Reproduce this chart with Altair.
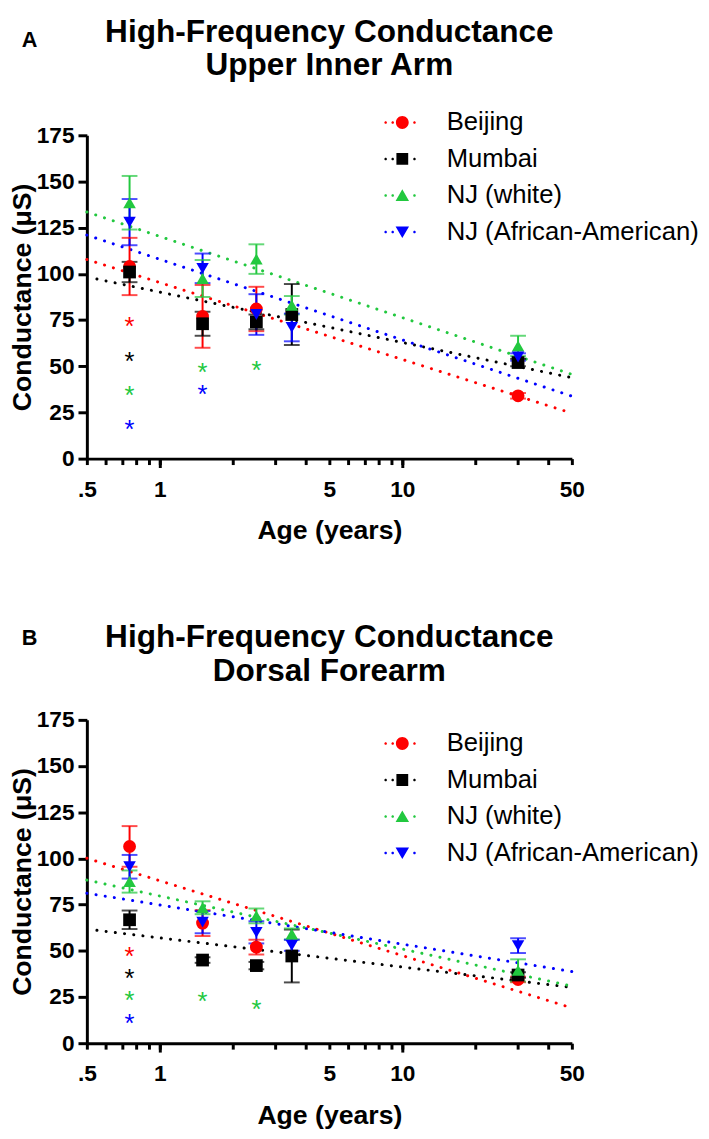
import altair as alt
import pandas as pd

# ---------------- data ----------------
SERIES = ["Beijing", "Mumbai", "NJ (white)", "NJ (African-American)"]
COLORS = ["#FF0000", "#000000", "#22C83F", "#0000FF"]
POINT_SHAPES = ["circle", "square", "triangle-up", "triangle-down"]
POINT_SIZES = [170, 160, 210, 210]
AGES = [0.75, 1.5, 2.5, 3.5, 30]

X_LABEL_TICKS = [0.5, 1, 5, 10, 50]
X_MAJOR_TICKS = [1, 10]
X_MINOR_TICKS = [0.6, 0.7, 0.8, 0.9, 2, 3, 4, 6, 7, 8, 9, 20, 30, 40]
Y_TICKS = [0, 25, 50, 75, 100, 125, 150, 175]

# Panel A - Upper Inner Arm : mean and error per age group (None = no group)
A_MEANS = {
    "Beijing": [104, 77, 81, None, 34],
    "Mumbai": [101, 73, 74, 78, 52],
    "NJ (white)": [138.5, 97.5, 108, 83, 61],
    "NJ (African-American)": [128, 103, 78, 71, 55],
}
A_ERRS = {
    "Beijing": [15.5, 17, 12, None, 1.5],
    "Mumbai": [5.5, 6.5, 4, 16.5, 2],
    "NJ (white)": [14.5, 10, 8, 5, 5.5],
    "NJ (African-American)": [12.5, 8, 11, 7.5, 2],
}
A_FIT_X0 = [0.5, 0.55, 0.5, 0.5]
A_FIT_X1 = [50, 50, 50, 50]
A_FIT_Y0 = [107.8, 97.2, 133.5, 121.0]
A_FIT_Y1 = [24.6, 43.8, 45.6, 33.8]
A_STAR_AGE = [0.75, 0.75, 0.75, 0.75, 1.5, 1.5, 2.5]
A_STAR_SERIES = ["Beijing", "Mumbai", "NJ (white)", "NJ (African-American)",
                 "NJ (white)", "NJ (African-American)", "NJ (white)"]
A_STAR_Y = [75, 56, 37.5, 19, 50, 38, 51]

# Panel B - Dorsal Forearm
B_MEANS = {
    "Beijing": [106.5, 65, 52, None, 34.5],
    "Mumbai": [66.8, 45, 42, 47.2, 36.9],
    "NJ (white)": [87.5, 73.3, 68.9, 59.1, 39.4],
    "NJ (African-American)": [95.5, 65.5, 60, 53, 52.8],
}
B_ERRS = {
    "Beijing": [11, 7, 4, None, 1.5],
    "Mumbai": [5, 1.5, 2, 14.3, 1.5],
    "NJ (white)": [6, 3.5, 4, 3, 6],
    "NJ (African-American)": [6.4, 6, 6, 3, 4],
}
B_FIT_X0 = [0.5, 0.55, 0.5, 0.5]
B_FIT_X1 = [50, 50, 50, 50]
B_FIT_Y0 = [100.1, 61.1, 88.3, 81.2]
B_FIT_Y1 = [19.1, 30.2, 30.9, 38.8]
B_STAR_AGE = [0.75, 0.75, 0.75, 0.75, 1.5, 2.5]
B_STAR_SERIES = ["Beijing", "Mumbai", "NJ (white)", "NJ (African-American)",
                 "NJ (white)", "NJ (white)"]
B_STAR_Y = [50.3, 38.4, 26.3, 14, 25.8, 21.4]

TITLE_LINE1 = "High-Frequency Conductance"
A_TITLE_LINE2 = "Upper Inner Arm"
B_TITLE_LINE2 = "Dorsal Forearm"

# legend symbols: dotted line + marker (custom SVG paths)
DOTS = ("M-2.8,0a0.2,0.2 0 1,0 0.4,0a0.2,0.2 0 1,0 -0.4,0Z "
        "M-1.7,0a0.2,0.2 0 1,0 0.4,0a0.2,0.2 0 1,0 -0.4,0Z "
        "M1.7,0a0.2,0.2 0 1,0 0.4,0a0.2,0.2 0 1,0 -0.4,0Z")
LEGEND_PATHS = [
    DOTS + " M-1,0a1,1 0 1,0 2,0a1,1 0 1,0 -2,0Z",
    DOTS + " M-0.92,-0.92h1.84v1.84h-1.84Z",
    DOTS + " M0,-0.95L1.05,0.85L-1.05,0.85Z",
    DOTS + " M0,0.95L1.05,-0.85L-1.05,-0.85Z",
]

FONT = "Liberation Sans"
W, H = 492, 328


def build_frames(means, errs, fx0, fx1, fy0, fy1, s_age, s_series, s_y):
    pts, caps, lines = [], [], []
    for s in SERIES:
        for age, m, e in zip(AGES, means[s], errs[s]):
            if m is None:
                continue
            pts.append({"series": s, "age": age, "mean": m, "lo": m - e, "hi": m + e})
            caps.append({"series": s, "age": age, "cap": m - e})
            caps.append({"series": s, "age": age, "cap": m + e})
    for s, a0, a1, v0, v1 in zip(SERIES, fx0, fx1, fy0, fy1):
        lines.append({"series": s, "age": a0, "value": v0})
        lines.append({"series": s, "age": a1, "value": v1})
    stars = pd.DataFrame({"series": s_series, "age": s_age, "value": s_y})
    return pd.DataFrame(pts), pd.DataFrame(caps), pd.DataFrame(lines), stars


def panel(means, errs, fx0, fx1, fy0, fy1, s_age, s_series, s_y,
          line2, letter, t1_y, t2_y, letter_y, leg_x, leg_y):
    pts, caps, lines, stars = build_frames(means, errs, fx0, fx1, fy0, fy1,
                                           s_age, s_series, s_y)
    xs = alt.Scale(type="log", domain=[0.5, 50], nice=False)
    ys = alt.Scale(domain=[0, 175], nice=False, zero=True)

    def cscale():
        return alt.Scale(domain=SERIES, range=COLORS)

    x_label_axis = alt.Axis(
        orient="bottom", values=X_LABEL_TICKS,
        labelExpr="datum.value < 0.9 ? '.5' : datum.label",
        tickSize=6, tickWidth=3, domainWidth=3, domainColor="black",
        tickColor="black", labelFontSize=23, labelFontWeight="bold",
        labelColor="black", labelPadding=14, labelFlush=False,
        labelOverlap=False, title="Age (years)", titleFontSize=27,
        titleFontWeight="bold", titleColor="black", titlePadding=17,
        grid=False)
    x_major_axis = alt.Axis(
        orient="bottom", values=X_MAJOR_TICKS, tickSize=9, tickWidth=3,
        tickColor="black", labels=False, domain=False, title=None, grid=False)
    x_minor_axis = alt.Axis(
        orient="bottom", values=X_MINOR_TICKS, tickSize=6, tickWidth=3,
        tickColor="black", labels=False, domain=False, title=None, grid=False)

    def y_axis():
        return alt.Axis(
            values=Y_TICKS, tickSize=9, tickWidth=3, domainWidth=3,
            domainColor="black", tickColor="black", labelFontSize=23,
            labelFontWeight="bold", labelColor="black", labelPadding=4,
            title="Conductance (\u03bcS)", titleFontSize=27,
            titleFontWeight="bold", titleColor="black", titlePadding=0,
            grid=False)

    fit = alt.Chart(lines).mark_line(
        strokeDash=[0.1, 9.3], strokeCap="round", strokeWidth=3
    ).encode(
        x=alt.X("age:Q", scale=xs, axis=x_label_axis),
        y=alt.Y("value:Q", scale=ys, axis=y_axis()),
        color=alt.Color("series:N", scale=cscale(), legend=None),
        detail="series:N",
    )
    bars = alt.Chart(pts).mark_rule(strokeWidth=2).encode(
        x=alt.X("age:Q", scale=xs, axis=x_minor_axis),
        y=alt.Y("lo:Q", scale=ys, axis=y_axis()),
        y2="hi:Q",
        color=alt.Color("series:N", scale=cscale(), legend=None),
    )
    capm = alt.Chart(caps).mark_tick(orient="horizontal", size=16, thickness=2).encode(
        x=alt.X("age:Q", scale=xs, axis=x_major_axis),
        y=alt.Y("cap:Q", scale=ys, axis=y_axis()),
        color=alt.Color("series:N", scale=cscale(), legend=None),
    )
    marks = alt.Chart(pts).mark_point(filled=True, opacity=1, strokeWidth=0).encode(
        x=alt.X("age:Q", scale=xs, axis=None),
        y=alt.Y("mean:Q", scale=ys, axis=y_axis()),
        color=alt.Color("series:N", scale=cscale(), legend=None),
        shape=alt.Shape("series:N", scale=alt.Scale(domain=SERIES, range=POINT_SHAPES), legend=None),
        size=alt.Size("series:N", scale=alt.Scale(domain=SERIES, range=POINT_SIZES), legend=None),
    )
    star = alt.Chart(stars).mark_text(
        text="*", fontSize=26, baseline="alphabetic", dy=15, font=FONT
    ).encode(
        x=alt.X("age:Q", scale=xs, axis=None),
        y=alt.Y("value:Q", scale=ys, axis=y_axis()),
        color=alt.Color("series:N", scale=cscale(), legend=None),
    )
    leg = alt.Legend(
        title=None, orient="none", legendX=leg_x, legendY=leg_y,
        direction="vertical", labelFontSize=26, labelFont=FONT,
        labelColor="black", symbolSize=169, symbolOpacity=1,
        symbolStrokeWidth=0, labelOffset=32, rowPadding=11, padding=0,
        labelLimit=400)
    legend_layer = alt.Chart(pd.DataFrame({"entry": SERIES})).mark_point(
        filled=True, opacity=0
    ).encode(
        x=alt.value(0), y=alt.value(0),
        color=alt.Color("entry:N", scale=alt.Scale(domain=SERIES, range=COLORS), legend=leg),
        shape=alt.Shape("entry:N", scale=alt.Scale(domain=SERIES, range=LEGEND_PATHS), legend=leg),
    )
    one = pd.DataFrame({"k": [0]})
    t1 = alt.Chart(one).mark_text(
        text=TITLE_LINE1, fontSize=32, fontWeight="bold", align="center",
        baseline="alphabetic", font=FONT, color="black"
    ).encode(x=alt.value(W / 2), y=alt.value(t1_y))
    t2 = alt.Chart(one).mark_text(
        text=line2, fontSize=32, fontWeight="bold", align="center",
        baseline="alphabetic", font=FONT, color="black"
    ).encode(x=alt.value(W / 2), y=alt.value(t2_y))
    lt = alt.Chart(one).mark_text(
        text=letter, fontSize=22, fontWeight="bold", align="center",
        baseline="alphabetic", font=FONT, color="black"
    ).encode(x=alt.value(-58), y=alt.value(letter_y))

    return alt.layer(fit, bars, capm, marks, star, legend_layer, t1, t2, lt).resolve_scale(
        color="independent", shape="independent", size="independent"
    ).resolve_axis(x="independent").properties(width=W, height=H)


panel_a = panel(A_MEANS, A_ERRS, A_FIT_X0, A_FIT_X1, A_FIT_Y0, A_FIT_Y1,
                A_STAR_AGE, A_STAR_SERIES, A_STAR_Y, A_TITLE_LINE2, "A",
                -95, -61, -90, 307, -26)
panel_b = panel(B_MEANS, B_ERRS, B_FIT_X0, B_FIT_X1, B_FIT_Y0, B_FIT_Y1,
                B_STAR_AGE, B_STAR_SERIES, B_STAR_Y, B_TITLE_LINE2, "B",
                -74, -39, -76, 307, 11)

chart = alt.vconcat(panel_a, panel_b, spacing=265, bounds="flush").properties(
    padding={"left": 0, "top": 0, "right": 2, "bottom": 0}
).configure(font=FONT).configure_view(stroke=None)

chart.save("out.html", embed_options={"renderer": "svg", "actions": False})
